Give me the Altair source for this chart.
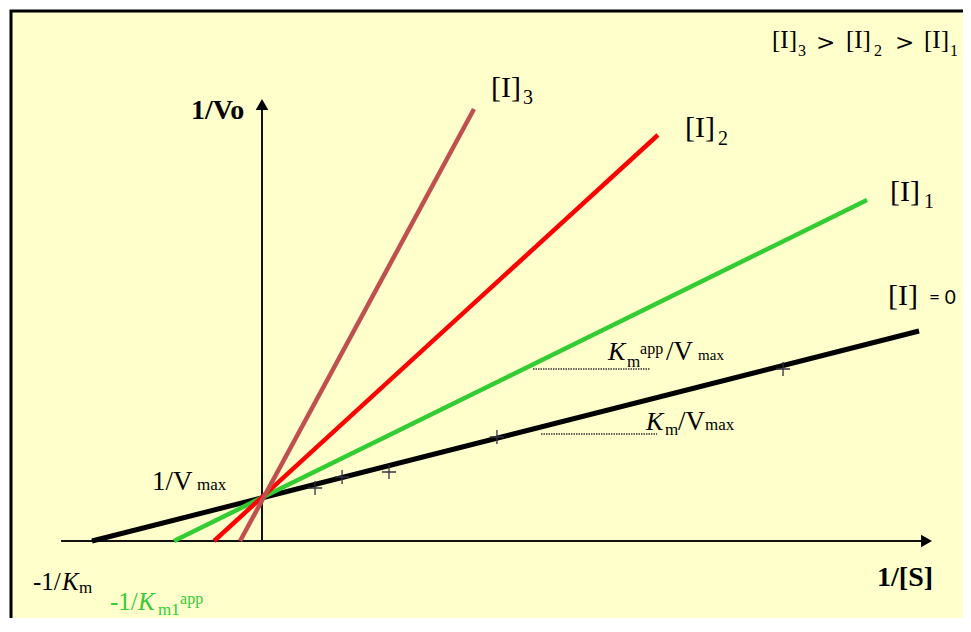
import altair as alt
import pandas as pd

# ---------------- chart values (units: 1/[S] across, 1/Vo up) ----------------
series = ["[I] = 0", "[I]1", "[I]2", "[I]3"]
line_x0 = [-1.0, -0.518, -0.282, -0.129]
line_y0 = [0.0, 0.0, 0.0, 0.0]
line_x1 = [3.865, 3.559, 2.329, 1.247]
line_y1 = [4.667, 7.578, 9.022, 9.600]
line_colors = ["#000000", "#33CC33", "#FF0000", "#C0504D"]

point_x = [0.312, 0.471, 0.747, 1.382, 3.065]
point_y = [1.178, 1.422, 1.533, 2.311, 3.822]

# axes of the diagram (x axis along 1/Vo = 0, y axis along 1/[S] = 0)
x_axis_from, x_axis_to = -1.182, 3.909
y_axis_from, y_axis_to = 0.0, 9.70

# dotted guides under the slope labels
guide_y = [3.822, 2.378]
guide_x0 = [1.594, 1.641]
guide_x1 = [2.282, 2.324]

# text pieces: (text, x, y, font size, colour)
serif_normal = [
    ("[I]", 3.000, 10.956, 25, "#000"), ("3", 3.153, 10.778, 16, "#000"),
    ("[I]", 3.435, 10.956, 25, "#000"), ("2", 3.600, 10.778, 16, "#000"),
    ("[I]", 3.894, 10.956, 25, "#000"), ("1", 4.047, 10.778, 16, "#000"),
    ("[I]", 1.347, 9.867, 30, "#000"), ("3", 1.535, 9.711, 20, "#000"),
    ("[I]", 2.488, 8.978, 30, "#000"), ("2", 2.682, 8.800, 20, "#000"),
    ("[I]", 3.694, 7.556, 30, "#000"), ("1", 3.894, 7.400, 20, "#000"),
    ("[I]", 3.682, 5.244, 30, "#000"),
    ("1/V", -0.647, 1.133, 27, "#000"), ("max", -0.382, 1.133, 17, "#000"),
    ("-1/", -1.347, -1.089, 25, "#000"), ("m", -1.076, -1.156, 17, "#000"),
    ("-1/", -0.894, -1.540, 25, "#33CC33"), ("m1", -0.612, -1.640, 17, "#33CC33"),
    ("app", -0.482, -1.410, 16, "#33CC33"),
    ("m", 2.147, 3.867, 17, "#000"), ("app", 2.224, 4.156, 16, "#000"),
    ("/V", 2.376, 4.022, 27, "#000"), ("max", 2.565, 4.022, 15, "#000"),
    ("m", 2.371, 2.356, 17, "#000"),
    ("/V", 2.447, 2.467, 27, "#000"), ("max", 2.606, 2.467, 17, "#000"),
]
serif_symbol = [
    (">", 3.259, 10.911, 23, "#000"),
    (">", 3.723, 10.911, 23, "#000"),
]
serif_italic = [
    ("K", -1.176, -1.089, 25, "#000"),
    ("K", -0.729, -1.540, 25, "#33CC33"),
    ("K", 2.035, 4.022, 26, "#000"),
    ("K", 2.259, 2.467, 26, "#000"),
]
serif_bold = [
    ("1/Vo", -0.418, 9.378, 28, "#000"),
    ("1/[S]", 3.618, -1.000, 28, "#000"),
]
sans = [
    ("= 0", 3.923, 5.267, 19, "#000"),
]

# ---------------- scales ----------------
xs = alt.Scale(domain=[-1.4765, 4.2], nice=False, zero=False)
ys = alt.Scale(domain=[-2.2222, 11.7778], nice=False, zero=False)
X = lambda f: alt.X(f, type="quantitative", scale=xs, axis=None)
Y = lambda f: alt.Y(f, type="quantitative", scale=ys, axis=None)

lines_df = pd.DataFrame({"s": series, "x0": line_x0, "y0": line_y0,
                         "x1": line_x1, "y1": line_y1, "c": line_colors,
                         "w": [5, 4.5, 4.5, 4.5]})
pts_df = pd.DataFrame({"x": point_x, "y": point_y})
axes_df = pd.DataFrame({"x0": [x_axis_from, 0.0], "x1": [x_axis_to, 0.0],
                        "y0": [0.0, y_axis_from], "y1": [0.0, y_axis_to]})
arrow_df = pd.DataFrame({"x": [x_axis_to, 0.0], "y": [0.0, y_axis_to],
                         "shape": ["triangle-right", "triangle-up"]})
guides_df = pd.DataFrame({"x0": guide_x0, "x1": guide_x1, "y": guide_y})

axes = alt.Chart(axes_df).mark_rule(color="#111", strokeWidth=2).encode(
    x=X("x0"), x2="x1", y=Y("y0"), y2="y1")
arrows = alt.Chart(arrow_df).mark_point(filled=True, size=160, color="#000", opacity=1).encode(
    x=X("x"), y=Y("y"), shape=alt.Shape("shape:N", scale=None, legend=None))
guides = alt.Chart(guides_df).mark_rule(color="#333", strokeWidth=1.3, strokeDash=[1.5, 1]).encode(
    x=X("x0"), x2="x1", y=Y("y"))
lines = alt.Chart(lines_df).mark_rule().encode(
    x=X("x0"), x2="x1", y=Y("y0"), y2="y1",
    color=alt.Color("c:N", scale=None, legend=None),
    strokeWidth=alt.StrokeWidth("w:Q", scale=None, legend=None))
pts = alt.Chart(pts_df).mark_point(shape="M-1,0L1,0M0,-1L0,1", size=200, color="#333344",
                                   strokeWidth=1.3, filled=False, opacity=1).encode(
    x=X("x"), y=Y("y"))


def text_layer(rows, **style):
    df = pd.DataFrame(rows, columns=["t", "x", "y", "s", "c"])
    return alt.Chart(df).mark_text(align="left", baseline="alphabetic", **style).encode(
        x=X("x"), y=Y("y"), text="t:N",
        size=alt.Size("s:Q", scale=None, legend=None),
        color=alt.Color("c:N", scale=None, legend=None))


texts = [
    text_layer(serif_normal, font="Liberation Serif"),
    text_layer(serif_symbol, font="DejaVu Serif"),
    text_layer(serif_italic, font="Liberation Serif", fontStyle="italic"),
    text_layer(serif_bold, font="Liberation Serif", fontWeight="bold"),
    text_layer(sans, font="Lato"),
]

chart = alt.layer(axes, arrows, guides, lines, pts, *texts).properties(
    width=965, height=630,
    autosize=alt.AutoSizeParams(type="none"),
    padding={"left": 3, "top": 3, "right": -13, "bottom": -23},
    background="white",
).configure_view(fill="#FFFFCC", stroke="#000000", strokeWidth=3)

chart.save("out.html", embed_options={"renderer": "svg", "actions": False})
